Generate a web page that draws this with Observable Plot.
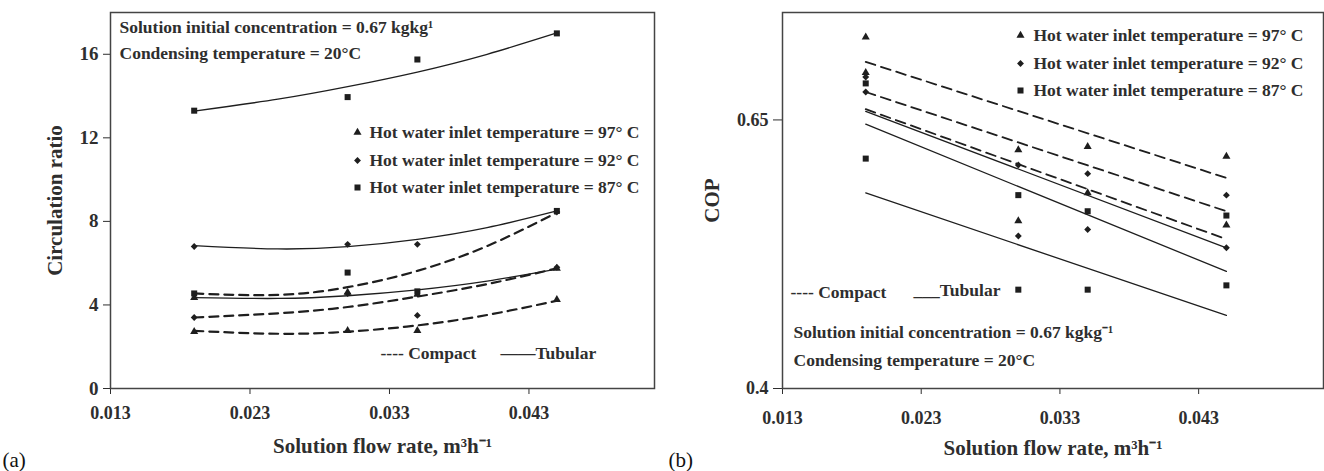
<!DOCTYPE html>
<html>
<head>
<meta charset="utf-8">
<script src="https://cdn.jsdelivr.net/npm/d3@7"></script>
<script src="https://cdn.jsdelivr.net/npm/@observablehq/plot@0.6"></script>
<style>
  html, body { margin: 0; padding: 0; background: #fff; }
  #wrap { display: flex; width: 1324px; height: 471px; overflow: hidden; }
</style>
</head>
<body>
<div id="wrap"></div>
<script>
// ---------- shared ----------
const flowRate = [0.019, 0.030, 0.035, 0.045];
const xTicks = [0.013, 0.023, 0.033, 0.043];
const temps = [97, 92, 87];
const legendLabels = ["Hot water inlet temperature = 97° C", "Hot water inlet temperature = 92° C", "Hot water inlet temperature = 87° C"];

// ---------- (a) circulation ratio ----------
const yTicksA = [0, 4, 8, 12, 16];
const crTubular97 = [4.35, 4.6, 4.5, 5.75];
const crTubular92 = [6.8, 6.9, 6.9, 8.45];
const crTubular87 = [13.3, 13.95, 15.75, 17.0];
const crCompact97 = [2.72, 2.77, 2.77, 4.25];
const crCompact92 = [3.4, 4.55, 3.5, 5.8];
const crCompact87 = [4.55, 5.55, 4.65, 8.5];
// fitted curves
const curveX = [0.019, 0.025, 0.030, 0.035, 0.040, 0.045];
const crFitTubular87 = [13.28, 13.85, 14.45, 15.15, 16.0, 17.02];
const crFitTubular92 = [6.84, 6.68, 6.79, 7.14, 7.7, 8.5];
const crFitTubular97 = [4.35, 4.31, 4.44, 4.72, 5.14, 5.71];
const crFitCompact87 = [4.55, 4.48, 4.85, 5.63, 6.82, 8.42];
const crFitCompact92 = [3.4, 3.6, 3.9, 4.4, 5.0, 5.75];
const crFitCompact97 = [2.76, 2.62, 2.72, 3.02, 3.52, 4.2];

// ---------- (b) COP ----------
const yTicksB = [0.4, 0.65];
const copCompact97 = [0.727, 0.622, 0.625, 0.616];
const copTubular97 = [0.694, 0.556, 0.582, 0.552];
const copCompact92 = [0.690, 0.608, 0.600, 0.580];
const copTubular92 = [0.676, 0.542, 0.548, 0.531];
const copCompact87 = [0.684, 0.580, 0.565, 0.561];
const copTubular87 = [0.614, 0.492, 0.492, 0.496];
const fitX = [0.019, 0.045];
const copFitCompact97 = [0.704, 0.596];
const copFitCompact92 = [0.676, 0.565];
const copFitCompact87 = [0.660, 0.539];
const copFitTubular97 = [0.658, 0.531];
const copFitTubular92 = [0.646, 0.509];
const copFitTubular87 = [0.582, 0.468];

// ---------- helpers ----------
const ink = "#1e1e1e";
const txt = "#2e2e2e";
const serif = "'Liberation Serif', 'Times New Roman', serif";
const symbolOf = {97: "triangle", 92: "diamond2", 87: "square"};
const sizeOf = {97: 3.0, 92: 3.1, 87: 3.4};

function table(xs, ys) { return xs.map((x, i) => ({x, y: ys[i]})); }

function dotsFor(groups) {
  return groups.map(g => Plot.dot(table(flowRate, g.ys), {
    x: "x", y: "y", symbol: symbolOf[g.temp], r: sizeOf[g.temp], fill: ink, stroke: "none"
  }));
}
function solid(xs, ys, w) {
  return Plot.line(table(xs, ys), {x: "x", y: "y", curve: "natural", stroke: ink, strokeWidth: w});
}
function dashed(xs, ys, w, dash) {
  return Plot.line(table(xs, ys), {x: "x", y: "y", curve: "natural", stroke: ink, strokeWidth: w, strokeDasharray: dash});
}
function note(str, anchor, dx, dy, opts = {}) {
  return Plot.text([str], {text: d => d, frameAnchor: anchor, dx, dy, textAnchor: "start", lineAnchor: "middle",
    fontSize: 17.5, fontWeight: "bold", fill: txt, ...opts});
}
function legend(dxMarker, dxText, dys) {
  const marks = [];
  temps.forEach((t, i) => {
    marks.push(Plot.dot([t], {frameAnchor: "top-left", dx: dxMarker, dy: dys[i], symbol: symbolOf[t], r: sizeOf[t], fill: ink, stroke: "none"}));
    marks.push(note(legendLabels[i], "top-left", dxText, dys[i]));
  });
  return marks;
}

const common = {
  width: 662, height: 471,
  marginTop: 12, marginBottom: 83,
  x: {domain: [0.013, 0.052]},
  style: {fontFamily: serif, fontSize: "18px", fontWeight: "bold", color: txt, background: "white", overflow: "visible"}
};

// ---------- chart (a) ----------
const chartA = Plot.plot({
  ...common,
  marginLeft: 110, marginRight: 8,
  y: {domain: [0, 18]},
  marks: [
    Plot.axisX({ticks: xTicks, tickFormat: d => d.toFixed(3), tickSize: 6, tickPadding: 12, label: null, fontSize: 18}),
    Plot.axisY({ticks: yTicksA, tickSize: 7, tickPadding: 5, label: null, fontSize: 19}),
    Plot.frame({stroke: "#444", strokeWidth: 1.5}),
    solid(curveX, crFitTubular87, 1.3),
    solid(curveX, crFitTubular92, 1.3),
    solid(curveX, crFitTubular97, 1.3),
    dashed(curveX, crFitCompact87, 2.2, "9,6"),
    dashed(curveX, crFitCompact92, 2.2, "9,6"),
    dashed(curveX, crFitCompact97, 2.2, "9,6"),
    ...dotsFor([
      {temp: 97, ys: crTubular97}, {temp: 92, ys: crTubular92}, {temp: 87, ys: crTubular87},
      {temp: 97, ys: crCompact97}, {temp: 92, ys: crCompact92}, {temp: 87, ys: crCompact87}
    ]),
    note("Solution initial concentration = 0.67 kgkg¹", "top-left", 9, 15),
    note("Condensing temperature = 20°C", "top-left", 9, 41),
    ...legend(247, 259, [120, 148, 175]),
    note("---- Compact", "bottom-left", 270, -35),
    note("——Tubular", "bottom-left", 390, -35),
    note("Circulation ratio", "left", -55, 0, {rotate: -90, textAnchor: "middle", fontSize: 21}),
    note("Solution flow rate, m³h⁻¹", "bottom", 0, 58, {textAnchor: "middle", fontSize: 21}),
    note("(a)", "bottom-left", -108, 72, {fontWeight: "normal", fontSize: 21, fill: "#111"})
  ]
});

// ---------- chart (b) ----------
const chartB = Plot.plot({
  ...common,
  marginLeft: 120, marginRight: 1,
  y: {domain: [0.4, 0.75]},
  marks: [
    Plot.axisX({ticks: xTicks, tickFormat: d => d.toFixed(3), tickSize: 6, tickPadding: 17, label: null, fontSize: 18}),
    Plot.axisY({ticks: yTicksB, tickFormat: d => String(d), tickSize: 9, tickPadding: 5, label: null, fontSize: 18}),
    Plot.frame({stroke: "#444", strokeWidth: 1.5}),
    dashed(fitX, copFitCompact97, 1.8, "10,6"),
    dashed(fitX, copFitCompact92, 1.8, "10,6"),
    dashed(fitX, copFitCompact87, 1.8, "10,6"),
    solid(fitX, copFitTubular97, 1.3),
    solid(fitX, copFitTubular92, 1.3),
    solid(fitX, copFitTubular87, 1.3),
    ...dotsFor([
      {temp: 97, ys: copCompact97}, {temp: 97, ys: copTubular97},
      {temp: 92, ys: copCompact92}, {temp: 92, ys: copTubular92},
      {temp: 87, ys: copCompact87}, {temp: 87, ys: copTubular87}
    ]),
    ...legend(238, 251, [23, 51, 78]),
    note("---- Compact", "top-left", 8, 280),
    note("___Tubular", "top-left", 131, 278),
    note("Solution initial concentration = 0.67 kgkg⁻¹", "top-left", 11, 320),
    note("Condensing temperature = 20°C", "top-left", 11, 348),
    note("COP", "left", -70, 0, {rotate: -90, textAnchor: "middle", fontSize: 21}),
    note("Solution flow rate, m³h⁻¹", "bottom", 0, 60, {textAnchor: "middle", fontSize: 21}),
    note("(b)", "bottom-left", -114, 72, {fontWeight: "normal", fontSize: 21, fill: "#111"})
  ]
});

const wrap = document.getElementById("wrap");
wrap.appendChild(chartA);
wrap.appendChild(chartB);
</script>
</body>
</html>
